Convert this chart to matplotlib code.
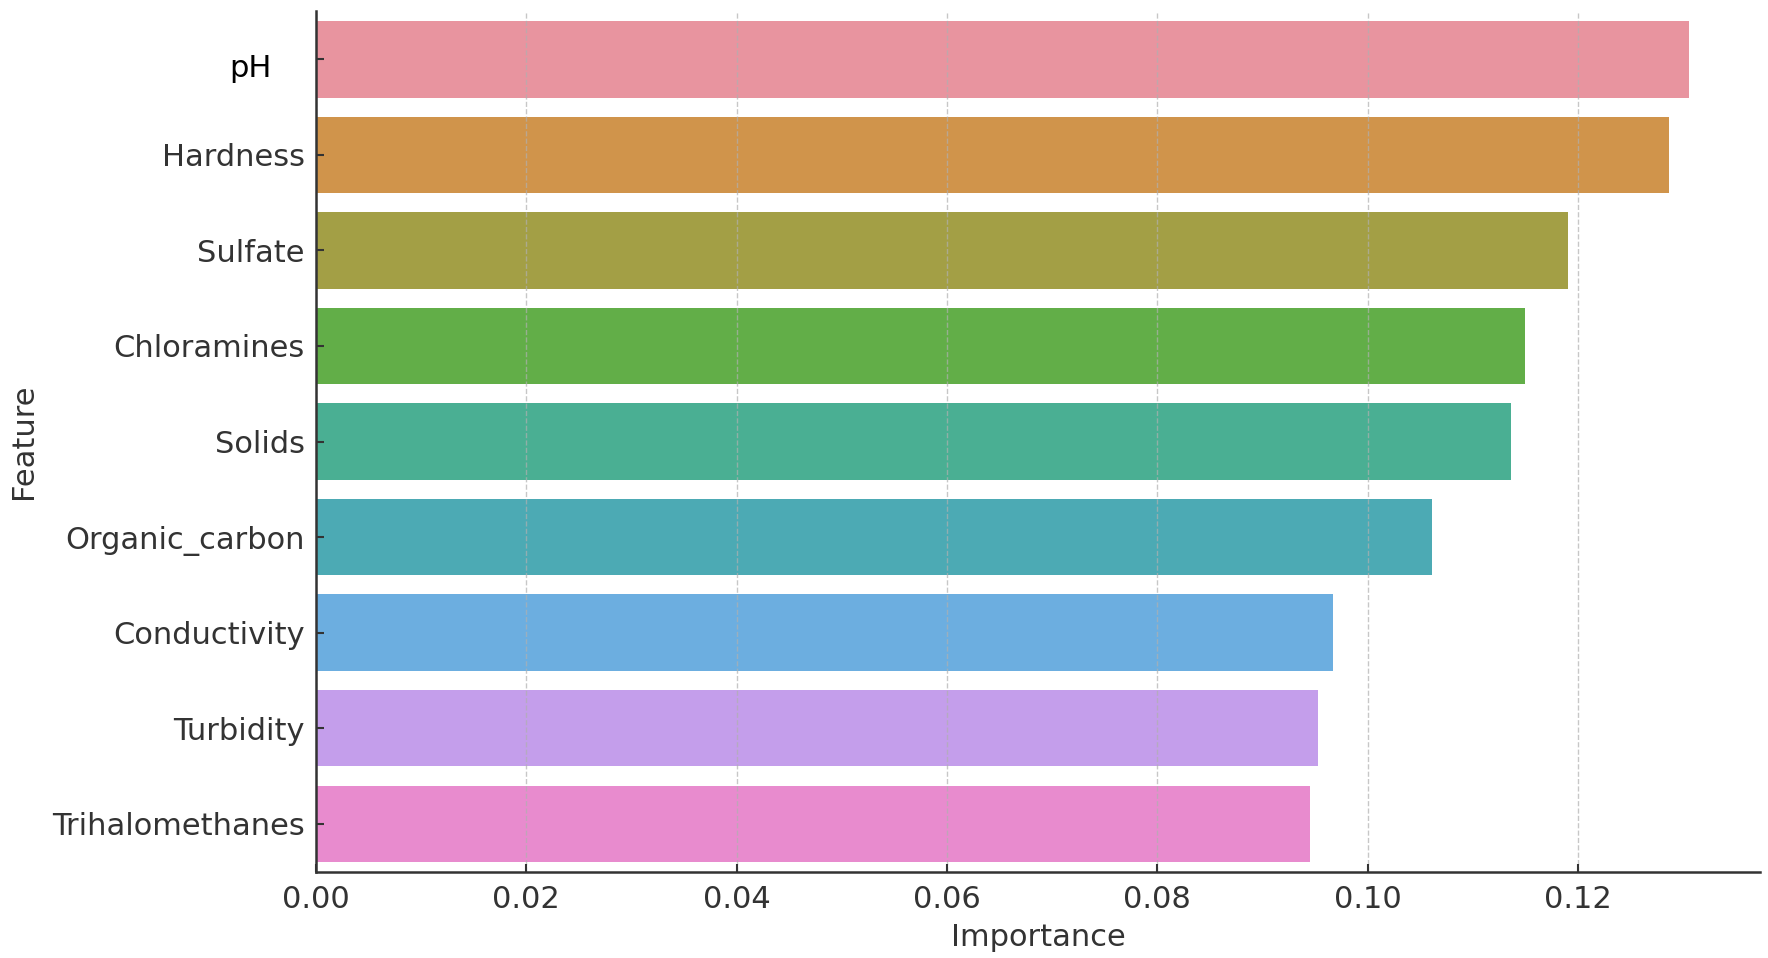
import matplotlib
matplotlib.use("Agg")
import matplotlib.pyplot as plt
import matplotlib.transforms as mtransforms
import numpy as np

# data
features = ["pH", "Hardness", "Sulfate", "Chloramines", "Solids",
            "Organic_carbon", "Conductivity", "Turbidity", "Trihalomethanes"]
importance = [0.1305, 0.1286, 0.1190, 0.1150, 0.1136,
              0.1061, 0.0967, 0.0953, 0.0945]
bar_colors = ["#E8949F", "#D0944B", "#A39F45", "#62AE48", "#4AAF93",
              "#4CAAB4", "#6CAEE0", "#C49EEB", "#E88BCE"]
x_ticks = [0.00, 0.02, 0.04, 0.06, 0.08, 0.10, 0.12]

plt.rcParams['font.family'] = ['DejaVu Sans']
text_col = "#333333"

fig = plt.figure(figsize=(17.68, 9.58), dpi=100)
ax = fig.add_axes([0.1787, 0.0902, 0.8168, 0.8978])

y = np.arange(len(features))
ax.barh(y, importance, height=0.8, color=bar_colors, zorder=1)

ax.set_ylim(len(features) - 0.5, -0.5)
ax.set_xlim(0, 0.1373)
ax.set_yticks(y)
ax.set_yticklabels(features)
ax.set_xticks(x_ticks)
ax.set_xticklabels(["%.2f" % v for v in x_ticks])

ax.grid(axis='x', linestyle='--', color='#b0b0b0', linewidth=1.0, alpha=0.7)
ax.grid(axis='y', visible=False)

for side in ['top', 'right']:
    ax.spines[side].set_visible(False)
for side in ['left', 'bottom']:
    ax.spines[side].set_linewidth(1.8)
    ax.spines[side].set_color(text_col)

ax.tick_params(axis='both', direction='in', length=6, width=1.5,
               colors=text_col, labelsize=22, pad=8)
ax.tick_params(axis='x', pad=10)

# the pH label sits a bit further left, lower and in black in the reference
lab = ax.get_yticklabels()[0]
lab.set_color('black')
lab.set_transform(lab.get_transform() +
                  mtransforms.ScaledTranslation(-0.33, -0.06, fig.dpi_scale_trans))

ax.set_xlabel("Importance", fontsize=22, color=text_col, labelpad=6)
ax.set_ylabel("Feature", fontsize=22, color=text_col, labelpad=10)

fig.savefig("out.png", dpi=100)
